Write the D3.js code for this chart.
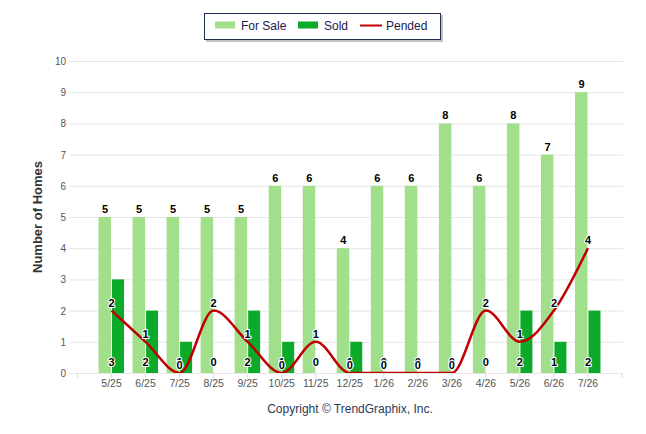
<!DOCTYPE html>
<html>
<head>
<meta charset="utf-8">
<script src="https://cdn.jsdelivr.net/npm/d3@7"></script>
<style>
  body { margin: 0; background: #fff; }
  svg { display: block; }
</style>
</head>
<body>
<div id="chart"></div>
<script>
var months = ["5/25", "6/25", "7/25", "8/25", "9/25", "10/25", "11/25", "12/25", "1/26", "2/26", "3/26", "4/26", "5/26", "6/26", "7/26"];
var forSale = [5, 5, 5, 5, 5, 6, 6, 4, 6, 6, 8, 6, 8, 7, 9];
var sold = [3, 2, 1, 0, 2, 1, 0, 1, 0, 0, 0, 0, 2, 1, 2];
var pended = [2, 1, 0, 2, 1, 0, 1, 0, 0, 0, 0, 2, 1, 2, 4];
var yTicks = [0, 1, 2, 3, 4, 5, 6, 7, 8, 9, 10];

var W = 646, H = 434;
var saleColor = "#a1df8b", soldColor = "#0caa2a", pendColor = "#c00000";
var font = "'Liberation Sans', Arial, sans-serif";

var svg = d3.select("#chart").append("svg")
    .attr("width", W)
    .attr("height", H);

var x = d3.scaleLinear().domain([-1, months.length]).range([77.5, 622]);
var y = d3.scaleLinear().domain([0, 10]).range([373, 61]);

// clip for the plot area
svg.append("clipPath").attr("id", "plot")
    .append("rect").attr("x", 69).attr("y", 50).attr("width", 556).attr("height", 323);

// gridlines
svg.append("g").selectAll("line")
    .data(yTicks)
    .enter().append("line")
    .attr("x1", 69).attr("x2", 623)
    .attr("y1", function (d) { return y(d) + 0.5; })
    .attr("y2", function (d) { return y(d) + 0.5; })
    .attr("stroke", "#e6e6e6");

// y labels
svg.append("g").selectAll("text")
    .data(yTicks)
    .enter().append("text")
    .attr("x", 66)
    .attr("y", function (d) { return y(d) + 4; })
    .attr("text-anchor", "end")
    .attr("font-family", font)
    .attr("font-size", "10px")
    .attr("fill", "#555")
    .text(function (d) { return d; });

// x axis ticks
var tickPos = d3.range(-1, months.length + 1);
svg.append("g").selectAll("line")
    .data(tickPos)
    .enter().append("line")
    .attr("x1", function (d) { return x(d); })
    .attr("x2", function (d) { return x(d); })
    .attr("y1", 373).attr("y2", 378)
    .attr("stroke", "#dcdcdc");

svg.append("g").selectAll("text")
    .data(months)
    .enter().append("text")
    .attr("x", function (d, i) { return x(i); })
    .attr("y", 387)
    .attr("text-anchor", "middle")
    .attr("font-family", font)
    .attr("font-size", "10.5px")
    .attr("fill", "#555")
    .text(function (d) { return d; });

// bars
svg.append("g").selectAll("rect")
    .data(forSale)
    .enter().append("rect")
    .attr("x", function (d, i) { return x(i) - 13; })
    .attr("width", 12.5)
    .attr("y", function (d) { return y(d); })
    .attr("height", function (d) { return y(0) - y(d); })
    .attr("fill", saleColor);

svg.append("g").selectAll("rect")
    .data(sold)
    .enter().append("rect")
    .attr("x", function (d, i) { return x(i) + 0.5; })
    .attr("width", 12)
    .attr("y", function (d) { return y(d); })
    .attr("height", function (d) { return y(0) - y(d); })
    .attr("fill", soldColor);

// pended line
var line = d3.line()
    .x(function (d, i) { return x(i); })
    .y(function (d) { return y(d); })
    .curve(d3.curveMonotoneX);

svg.append("path")
    .datum(pended)
    .attr("clip-path", "url(#plot)")
    .attr("d", line)
    .attr("fill", "none")
    .attr("stroke", pendColor)
    .attr("stroke-width", 2.5);

// data labels
function labels(data, fx, fy) {
    svg.append("g").selectAll("text")
        .data(data)
        .enter().append("text")
        .attr("x", fx)
        .attr("y", fy)
        .attr("text-anchor", "middle")
        .attr("font-family", font)
        .attr("font-size", "11px")
        .attr("font-weight", "bold")
        .attr("fill", "#000")
        .attr("stroke", "#fff")
        .attr("stroke-width", 2)
        .attr("paint-order", "stroke")
        .text(function (d) { return d; });
}
labels(forSale, function (d, i) { return x(i) - 6.5; }, function (d) { return y(d) - 4; });
labels(sold, function (d, i) { return x(i); }, function () { return 366; });
labels(pended, function (d, i) { return x(i); }, function (d) { return y(d) - 4; });

// y title
svg.append("text")
    .attr("transform", "translate(42,217) rotate(-90)")
    .attr("text-anchor", "middle")
    .attr("font-family", font)
    .attr("font-size", "13px")
    .attr("font-weight", "bold")
    .attr("fill", "#333")
    .text("Number of Homes");

// copyright
svg.append("text")
    .attr("x", 350)
    .attr("y", 413)
    .attr("text-anchor", "middle")
    .attr("font-family", font)
    .attr("font-size", "12px")
    .attr("fill", "#2b3a55")
    .text("Copyright \u00A9 TrendGraphix, Inc.");

// legend
var legend = svg.append("g");
legend.append("rect")
    .attr("x", 206).attr("y", 15).attr("width", 237).attr("height", 27)
    .attr("fill", "#999").attr("opacity", 0.6);
legend.append("rect")
    .attr("x", 204.5).attr("y", 13.5).attr("width", 236).attr("height", 26)
    .attr("fill", "#fff").attr("stroke", "#1f2d52");

var items = [
    { name: "For Sale", color: saleColor, type: "box", x: 215 },
    { name: "Sold", color: soldColor, type: "box", x: 298 },
    { name: "Pended", color: pendColor, type: "line", x: 360 }
];
items.forEach(function (it) {
    if (it.type === "box") {
        legend.append("rect").attr("x", it.x).attr("y", 21.5).attr("width", 20).attr("height", 7).attr("fill", it.color);
    } else {
        legend.append("line").attr("x1", it.x).attr("x2", it.x + 22).attr("y1", 25.5).attr("y2", 25.5)
            .attr("stroke", it.color).attr("stroke-width", 2);
    }
    legend.append("text")
        .attr("x", it.x + 26)
        .attr("y", 30)
        .attr("font-family", font)
        .attr("font-size", "12px")
        .attr("fill", "#1a1a4a")
        .text(it.name);
});
</script>
</body>
</html>
